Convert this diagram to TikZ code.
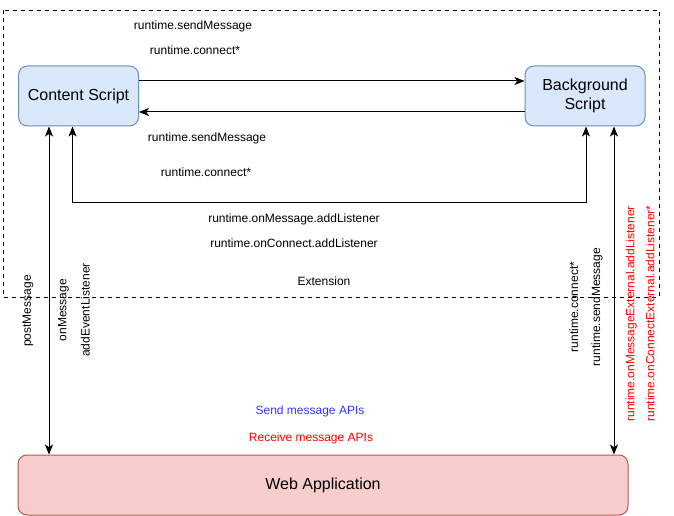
\documentclass[tikz,border=0pt]{standalone}
\usepackage{fontspec}
\setmainfont{Liberation Sans}
\usepackage{tikz}
\usetikzlibrary{positioning,arrows.meta,calc}
\definecolor{scriptfill}{RGB}{218,232,252}
\definecolor{scriptline}{RGB}{108,142,191}
\definecolor{appfill}{RGB}{248,206,204}
\definecolor{appline}{RGB}{184,84,80}
\definecolor{sendapi}{RGB}{51,51,255}
\definecolor{recvapi}{RGB}{255,0,0}

\begin{document}
\begin{tikzpicture}[x=0.75pt, y=-0.75pt, line width=0.75pt,
  box/.style={draw, rounded corners=6.75pt, align=center, minimum height=45pt,
    font=\fontsize{12}{14}\selectfont},
  script/.style={box, fill=scriptfill, draw=scriptline, minimum width=90pt},
  lbl/.style={font=\fontsize{9}{11}\selectfont, inner sep=0pt},
  vlbl/.style={lbl, rotate=90},
  arr/.style={-{Stealth[length=7.5pt, width=6pt, inset=2pt]}},
  dbl/.style={{Stealth[length=7.5pt, width=6pt, inset=2pt]}-{Stealth[length=7.5pt, width=6pt, inset=2pt]}}]
  \useasboundingbox (0,0) rectangle (674,516);
  \draw[dashed, line width=0.6pt] (3,10) rectangle (659,297);
  \node[script] (cs) at (78.5,96) {Content Script};
  \node[script] (bs) at (585,96) {Background\\Script};
  \node[box, fill=appfill, draw=appline, minimum width=457.5pt] (web) at (323,485) {Web Application};
  \coordinate (turn) at (586,203);
  \coordinate (csport) at ($(cs.south)+(-29.5,0)$);
  \coordinate (bsport) at ($(bs.south)+(29,0)$);
  \draw[arr] ([yshift=11.25pt]cs.east) -- ([yshift=11.25pt]bs.west);
  \draw[arr] ([yshift=-12pt]bs.west) -- ([yshift=-12pt]cs.east);
  \draw[dbl] ([xshift=-4.5pt]cs.south) |- (turn) -- (turn |- bs.south);
  \draw[dbl] (csport) -- (csport |- web.north);
  \draw[dbl] (bsport) -- (bsport |- web.north);
  \node[lbl] (sm1) at (193,26) {runtime.sendMessage};
  \node[lbl] (cn1) at (195,50) {runtime.connect*};
  \node[lbl] (sm2) at (207,138) {runtime.sendMessage};
  \node[lbl] (cn2) at (206,172) {runtime.connect*};
  \node[lbl] (onm) at (294,219) {runtime.onMessage.addListener};
  \node[lbl] (onc) at (294,243) {runtime.onConnect.addListener};
  \node[lbl] (ext) at (324,281) {Extension};
  \node[vlbl] (post) at (28,311) {postMessage};
  \node[vlbl, align=center, font=\fontsize{9}{17.5}\selectfont] (evt) at (74,310) {onMessage\\addEventListener};
  \node[vlbl, align=center, font=\fontsize{9}{16.5}\selectfont] (rt) at (586,307) {runtime.connect*\\runtime.sendMessage};
  \node[vlbl, align=left, anchor=west, text=recvapi, font=\fontsize{9}{15}\selectfont] (extl) at (640,422)
    {runtime.onMessageExternal.addListener\\runtime.onConnectExternal.addListener*};
  \node[lbl, text=sendapi] (send) at (310,411) {Send message APIs};
  \node[lbl, text=recvapi] (recv) at (311,438) {Receive message APIs};
\end{tikzpicture}
\end{document}
